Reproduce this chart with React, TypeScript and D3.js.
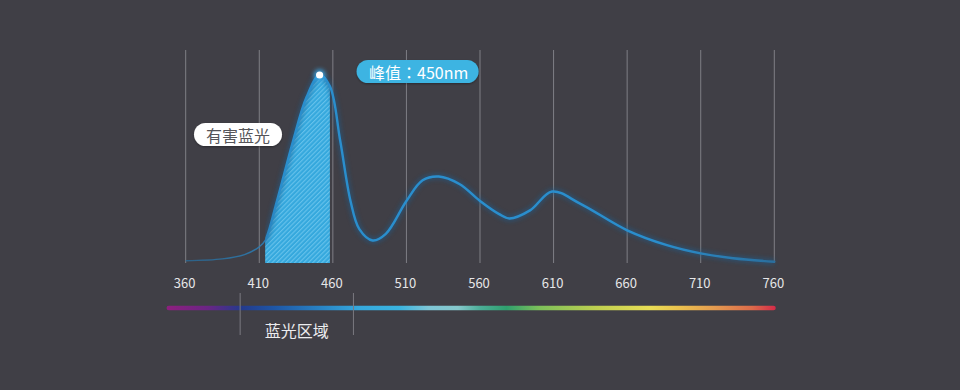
import React from "react";
import * as d3 from "d3";

const W = 960;
const H = 390;

// Spectral power distribution (wavelength in nm, relative intensity %)
const wavelengths = [360, 385, 400, 410, 414, 422, 433, 442, 451, 458, 465, 472, 478, 487, 496, 510, 521, 532, 546, 560, 573, 580, 594, 609, 628, 660, 687, 710, 732, 760];
const intensity = [1.2, 2.2, 4.5, 8.6, 12, 33, 65, 88, 100, 94, 65, 33, 18, 12, 15.5, 33, 44, 46, 42, 33, 26, 23.7, 28, 38, 31.6, 17.4, 9.5, 5.1, 2.5, 0.7];

const tickValues = [360, 410, 460, 510, 560, 610, 660, 710, 760];

const peakWavelength = 451;
const peakLabelA = "峰值";
const peakLabelColon = "：";
const peakLabelB = "450nm";
const harmfulRange = [414, 458];
const harmfulLabel = "有害蓝光";
const blueRegion = [397, 474];
const blueRegionLabel = "蓝光区域";
const thinTailEnd = 414;

const spectrumRange = [347, 761];
const spectrumStopsNm = [347, 375, 398, 420, 455, 478, 505, 525, 545, 560, 578, 600, 640, 675, 695, 720, 745, 761];
const spectrumStopsColor = ["#8e1f7e", "#6a2585", "#243a8c", "#1e56a6", "#2a88c8", "#36a8dc", "#3ab4e0", "#7ec6d6", "#86c8cc", "#4cae98", "#2fa06e", "#7cc05a", "#c0d050", "#e8de56", "#ebc24e", "#e49a50", "#dc6a4a", "#d42a48"];

const FONT = "'Noto Sans CJK SC', 'Noto Sans', sans-serif";

export default function App() {
  const x = d3.scaleLinear().domain([360, 760]).range([185.7, 774.3]);
  const y = d3.scaleLinear().domain([0, 100]).range([263, 75]);

  const pts: [number, number][] = wavelengths.map((w, i) => [w, intensity[i]]);
  const curve = d3.curveCatmullRom.alpha(0.5);

  const line = d3
    .line<[number, number]>()
    .x((d) => x(d[0]))
    .y((d) => y(d[1]))
    .curve(curve);

  const area = d3
    .area<[number, number]>()
    .x((d) => x(d[0]))
    .y0(y(0))
    .y1((d) => y(d[1]))
    .curve(curve);

  const linePath = line(pts) || "";
  const areaPath = area(pts) || "";

  const gridTop = 50;
  const gridBottom = y(0);

  const peakIdx = wavelengths.indexOf(peakWavelength);
  const px = x(peakWavelength);
  const py = y(intensity[peakIdx]);

  const specX0 = x(spectrumRange[0]);
  const specX1 = x(spectrumRange[1]);
  const specY = 308;

  return (
    <div style={{ position: "fixed", left: 0, top: 0, width: W, height: H, background: "#403f46" }}>
      <svg width={W} height={H} style={{ display: "block" }}>
        <defs>
          <pattern id="hatch" width="3.2" height="3.2" patternUnits="userSpaceOnUse" patternTransform="rotate(45)">
            <rect width="3.2" height="3.2" fill="#35a8dd" />
            <line x1="0.6" y1="0" x2="0.6" y2="3.2" stroke="#7fd0f2" strokeWidth="0.9" opacity="0.8" />
          </pattern>
          <clipPath id="harmClip">
            <rect x={x(harmfulRange[0])} y={0} width={x(harmfulRange[1]) - x(harmfulRange[0])} height={y(0)} />
          </clipPath>
          <clipPath id="tailClip">
            <rect x={0} y={0} width={x(thinTailEnd)} height={H} />
          </clipPath>
          <clipPath id="mainClip">
            <rect x={x(thinTailEnd)} y={0} width={W - x(thinTailEnd)} height={H} />
          </clipPath>
          <filter id="glow" x="-20%" y="-20%" width="140%" height="140%">
            <feGaussianBlur stdDeviation="2" />
          </filter>
          <filter id="dotGlow" x="-100%" y="-100%" width="300%" height="300%">
            <feGaussianBlur stdDeviation="2" />
          </filter>
          <filter id="shadow" x="-10%" y="-30%" width="120%" height="160%">
            <feDropShadow dx="0" dy="1" stdDeviation="1.2" floodColor="#000" floodOpacity="0.35" />
          </filter>
          <linearGradient id="lineGrad" gradientUnits="userSpaceOnUse" x1={x(360)} x2={x(760)} y1="0" y2="0">
            <stop offset="0" stopColor="#2a6792" />
            <stop offset={(410 - 360) / 400} stopColor="#2b7fb8" />
            <stop offset={(425 - 360) / 400} stopColor="#2a8ecd" />
            <stop offset={(680 - 360) / 400} stopColor="#2a8ecd" />
            <stop offset="1" stopColor="#2a6f9e" />
          </linearGradient>
          <linearGradient id="specGrad" gradientUnits="userSpaceOnUse" x1={specX0} x2={specX1} y1="0" y2="0">
            {spectrumStopsNm.map((nm, i) => (
              <stop
                key={nm}
                offset={(nm - spectrumRange[0]) / (spectrumRange[1] - spectrumRange[0])}
                stopColor={spectrumStopsColor[i]}
              />
            ))}
          </linearGradient>
        </defs>

        {/* vertical gridlines */}
        {tickValues.map((t) => (
          <line key={t} x1={x(t)} x2={x(t)} y1={gridTop} y2={gridBottom} stroke="#8a8a90" strokeWidth={1} opacity={0.85} />
        ))}

        {/* harmful blue light shaded area */}
        <path d={areaPath} fill="url(#hatch)" clipPath="url(#harmClip)" />

        {/* curve: thin faded tail */}
        <g clipPath="url(#tailClip)">
          <path d={linePath} fill="none" stroke="url(#lineGrad)" strokeWidth={1.4} opacity={0.85} />
        </g>
        {/* curve: main line with glow */}
        <g clipPath="url(#mainClip)">
          <path d={linePath} fill="none" stroke="#1c5f92" strokeWidth={6} opacity={0.5} filter="url(#glow)" />
          <path d={linePath} fill="none" stroke="url(#lineGrad)" strokeWidth={2.4} strokeLinejoin="round" strokeLinecap="round" />
        </g>

        {/* peak dot */}
        <circle cx={px} cy={py} r={6} fill="#3aa8e8" opacity={0.8} filter="url(#dotGlow)" />
        <circle cx={px} cy={py} r={3.6} fill="#ffffff" />

        {/* peak label */}
        <g filter="url(#shadow)">
          <rect x={px + 37} y={py - 15} width={122} height={23} rx={11.5} fill="#3cb4e2" />
        </g>
        <text x={px + 99} y={py - 3.5} textAnchor="middle" dominantBaseline="central" fontFamily={FONT} fontSize={16} fill="#ffffff">
          {peakLabelA}
          <tspan fontFamily="'Noto Sans CJK TC', sans-serif">{peakLabelColon}</tspan>
          {peakLabelB}
        </text>

        {/* harmful label */}
        <g filter="url(#shadow)">
          <rect x={194} y={123} width={88} height={23} rx={11.5} fill="#ffffff" />
        </g>
        <text x={238} y={134.5} textAnchor="middle" dominantBaseline="central" fontFamily={FONT} fontSize={16} fill="#555559">
          {harmfulLabel}
        </text>

        {/* axis tick labels */}
        {tickValues.map((t) => (
          <text key={t} x={x(t) - 1} y={282} textAnchor="middle" dominantBaseline="central" fontFamily={FONT} fontSize={13} fill="#e6e6e8">
            {t}
          </text>
        ))}

        {/* spectrum bar */}
        <rect x={specX0} y={specY - 2.3} width={specX1 - specX0} height={4.6} rx={2.3} fill="url(#specGrad)" />

        {/* blue light region markers */}
        {blueRegion.map((b) => (
          <line key={b} x1={x(b)} x2={x(b)} y1={293} y2={335} stroke="#7a7a80" strokeWidth={1} />
        ))}
        <text
          x={(x(blueRegion[0]) + x(blueRegion[1])) / 2}
          y={330}
          textAnchor="middle"
          dominantBaseline="central"
          fontFamily={FONT}
          fontSize={16}
          fill="#ececee"
        >
          {blueRegionLabel}
        </text>
      </svg>
    </div>
  );
}
